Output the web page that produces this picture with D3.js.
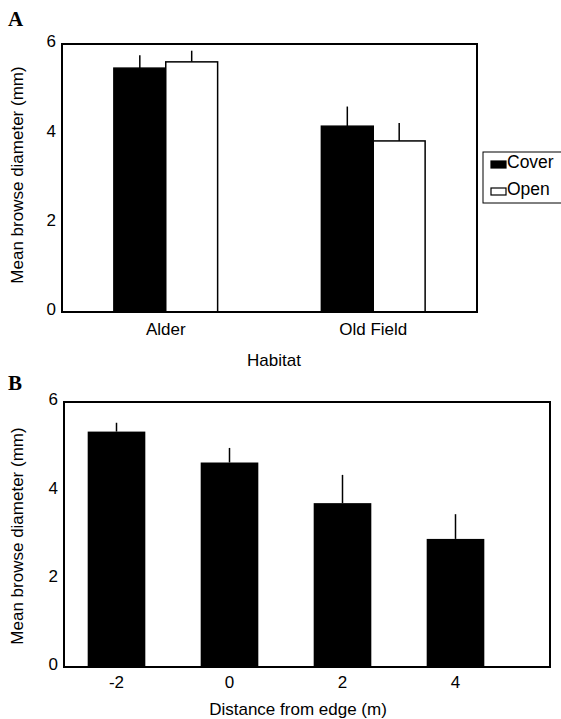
<!DOCTYPE html>
<html>
<head>
<meta charset="utf-8">
<script src="https://cdn.jsdelivr.net/npm/d3@7"></script>
<style>
body { margin: 0; background: #fff; }
svg { font-family: "Liberation Sans", Arial, sans-serif; }
</style>
</head>
<body>
<div id="chart"></div>
<script>
var w = 561;
var h = 719;

// panel A data
var habitats = ["Alder", "Old Field"];
var series = ["Cover", "Open"];
var coverMean = [5.46, 4.16];
var coverErr = [0.29, 0.44];
var openMean = [5.60, 3.83];
var openErr = [0.25, 0.40];

// panel B data
var distances = ["-2", "0", "2", "4"];
var distMean = [5.33, 4.63, 3.71, 2.90];
var distErr = [0.20, 0.33, 0.64, 0.56];

var yTicks = [0, 2, 4, 6];

var svg = d3.select("#chart")
	.append("svg")
	.attr("width", w)
	.attr("height", h);

function panelLabel(txt, y) {
	svg.append("text")
		.attr("x", 8)
		.attr("y", y)
		.attr("font-family", "'Liberation Serif', 'Times New Roman', serif")
		.attr("font-weight", "bold")
		.attr("font-size", "21px")
		.text(txt);
}

function yAxisLabels(g, yScale, x0) {
	g.selectAll("text.ytick")
		.data(yTicks)
		.enter()
		.append("text")
		.attr("class", "ytick")
		.attr("x", x0 - 6)
		.attr("y", function (d) { return yScale(d); })
		.attr("dy", "0.2em")
		.attr("text-anchor", "end")
		.attr("font-size", "17px")
		.text(function (d) { return d; });
}

function yTitle(cy) {
	svg.append("text")
		.attr("transform", "translate(23," + cy + ") rotate(-90)")
		.attr("text-anchor", "middle")
		.attr("font-size", "17px")
		.text("Mean browse diameter (mm)");
}

//---------------- Panel A ----------------
var boxA = { left: 62, right: 477, top: 44, bottom: 312 };

var xA = d3.scaleBand()
	.domain(habitats)
	.range([boxA.left, boxA.right])
	.paddingInner(0.5)
	.paddingOuter(0.25);

var xSub = d3.scaleBand()
	.domain(series)
	.range([0, xA.bandwidth()]);

var yA = d3.scaleLinear()
	.domain([0, 6])
	.range([boxA.bottom, boxA.top]);

var gA = svg.append("g");

var dataA = [];
habitats.forEach(function (hab, i) {
	dataA.push({ hab: hab, s: "Cover", v: coverMean[i], e: coverErr[i] });
	dataA.push({ hab: hab, s: "Open", v: openMean[i], e: openErr[i] });
});

// error bars (upper only)
gA.selectAll("line.err")
	.data(dataA)
	.enter()
	.append("line")
	.attr("class", "err")
	.attr("x1", function (d) { return xA(d.hab) + xSub(d.s) + xSub.bandwidth() / 2; })
	.attr("x2", function (d) { return xA(d.hab) + xSub(d.s) + xSub.bandwidth() / 2; })
	.attr("y1", function (d) { return yA(d.v); })
	.attr("y2", function (d) { return yA(d.v + d.e); })
	.attr("stroke", "#000")
	.attr("stroke-width", 1.5);

gA.selectAll("rect.bar")
	.data(dataA)
	.enter()
	.append("rect")
	.attr("class", "bar")
	.attr("x", function (d) { return xA(d.hab) + xSub(d.s); })
	.attr("y", function (d) { return yA(d.v); })
	.attr("width", xSub.bandwidth())
	.attr("height", function (d) { return yA(0) - yA(d.v); })
	.attr("fill", function (d) { return d.s === "Cover" ? "#000" : "#fff"; })
	.attr("stroke", "#000")
	.attr("stroke-width", 1.5);

gA.append("rect")
	.attr("x", boxA.left)
	.attr("y", boxA.top)
	.attr("width", boxA.right - boxA.left)
	.attr("height", boxA.bottom - boxA.top)
	.attr("fill", "none")
	.attr("stroke", "#000")
	.attr("stroke-width", 2);

yAxisLabels(gA, yA, boxA.left);

gA.selectAll("text.xtick")
	.data(habitats)
	.enter()
	.append("text")
	.attr("class", "xtick")
	.attr("x", function (d) { return xA(d) + xA.bandwidth() / 2; })
	.attr("y", boxA.bottom + 23)
	.attr("text-anchor", "middle")
	.attr("font-size", "17px")
	.text(function (d) { return d; });

svg.append("text")
	.attr("x", 274)
	.attr("y", 366)
	.attr("text-anchor", "middle")
	.attr("font-size", "17px")
	.text("Habitat");

yTitle(175);
panelLabel("A", 26);

// legend
var leg = svg.append("g");
leg.append("rect")
	.attr("x", 483)
	.attr("y", 152)
	.attr("width", 90)
	.attr("height", 51)
	.attr("fill", "#fff")
	.attr("stroke", "#000")
	.attr("stroke-width", 1);
leg.selectAll("rect.key")
	.data(series)
	.enter()
	.append("rect")
	.attr("class", "key")
	.attr("x", 491)
	.attr("y", function (d, i) { return 161 + i * 27; })
	.attr("width", 15)
	.attr("height", 7)
	.attr("fill", function (d) { return d === "Cover" ? "#000" : "#fff"; })
	.attr("stroke", "#000")
	.attr("stroke-width", 1.2);
leg.selectAll("text.key")
	.data(series)
	.enter()
	.append("text")
	.attr("class", "key")
	.attr("x", 507)
	.attr("y", function (d, i) { return 168 + i * 27; })
	.attr("font-size", "17.5px")
	.text(function (d) { return d; });

//---------------- Panel B ----------------
var boxB = { left: 64, right: 550, top: 402, bottom: 667 };

var xB = d3.scaleBand()
	.domain(distances)
	.range([60, 512])
	.paddingInner(0.49)
	.paddingOuter(0.245);

var yB = d3.scaleLinear()
	.domain([0, 6])
	.range([boxB.bottom, boxB.top]);

var gB = svg.append("g");

var dataB = distances.map(function (d, i) {
	return { d: d, v: distMean[i], e: distErr[i] };
});

gB.selectAll("line.err")
	.data(dataB)
	.enter()
	.append("line")
	.attr("class", "err")
	.attr("x1", function (d) { return xB(d.d) + xB.bandwidth() / 2; })
	.attr("x2", function (d) { return xB(d.d) + xB.bandwidth() / 2; })
	.attr("y1", function (d) { return yB(d.v); })
	.attr("y2", function (d) { return yB(d.v + d.e); })
	.attr("stroke", "#000")
	.attr("stroke-width", 1.5);

gB.selectAll("rect.bar")
	.data(dataB)
	.enter()
	.append("rect")
	.attr("class", "bar")
	.attr("x", function (d) { return xB(d.d); })
	.attr("y", function (d) { return yB(d.v); })
	.attr("width", xB.bandwidth())
	.attr("height", function (d) { return yB(0) - yB(d.v); })
	.attr("fill", "#000");

gB.append("rect")
	.attr("x", boxB.left)
	.attr("y", boxB.top)
	.attr("width", boxB.right - boxB.left)
	.attr("height", boxB.bottom - boxB.top)
	.attr("fill", "none")
	.attr("stroke", "#000")
	.attr("stroke-width", 2);

yAxisLabels(gB, yB, boxB.left);

gB.selectAll("text.xtick")
	.data(distances)
	.enter()
	.append("text")
	.attr("class", "xtick")
	.attr("x", function (d) { return xB(d) + xB.bandwidth() / 2; })
	.attr("y", boxB.bottom + 21)
	.attr("text-anchor", "middle")
	.attr("font-size", "17px")
	.text(function (d) { return d; });

svg.append("text")
	.attr("x", 298)
	.attr("y", 715)
	.attr("text-anchor", "middle")
	.attr("font-size", "17px")
	.text("Distance from edge (m)");

yTitle(536);
panelLabel("B", 390);
</script>
</body>
</html>
